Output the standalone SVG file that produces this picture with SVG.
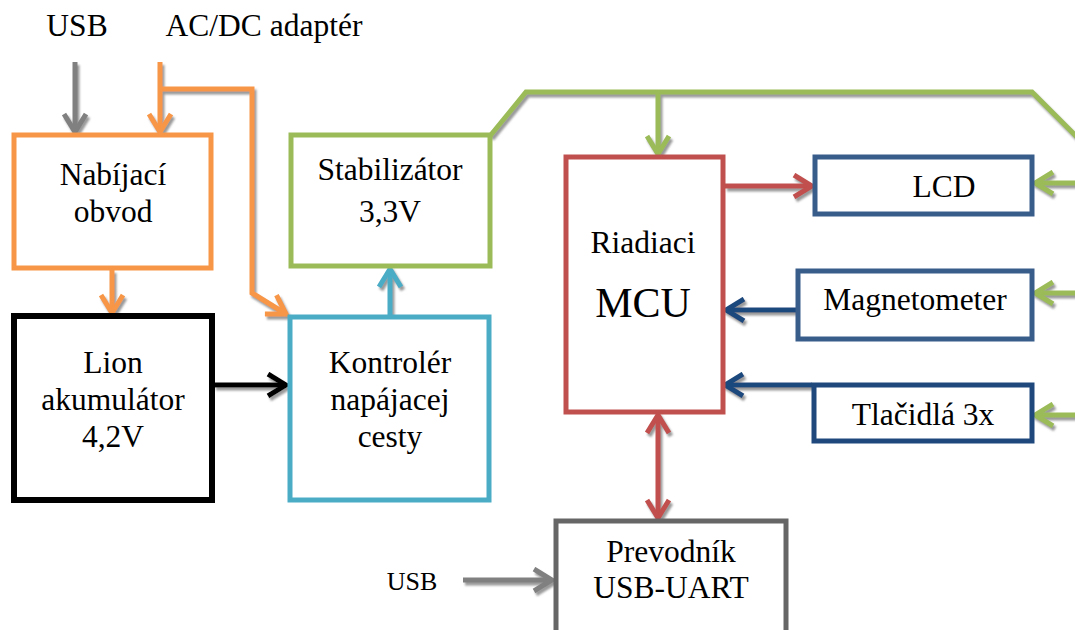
<svg xmlns="http://www.w3.org/2000/svg" width="1075" height="630" viewBox="0 0 1075 630">
<style>
text{font-family:"Liberation Serif","Times New Roman",serif;fill:#000;text-anchor:middle}
.t{font-size:31.5px}
.box{fill:#fff;stroke-width:5}
.c{fill:none;stroke-width:5}
</style>
<defs>
<filter id="sh" x="-10%" y="-10%" width="130%" height="130%">
<feDropShadow dx="2" dy="3" stdDeviation="0.8" flood-color="#808080" flood-opacity="0.8"/>
</filter>
<marker id="aO" viewBox="0 0 24 26" refX="21" refY="13" markerWidth="24" markerHeight="26" markerUnits="userSpaceOnUse" orient="auto"><path d="M3,2 L21,13 L3,24" fill="none" stroke="#F79646" stroke-width="5"/></marker>
<marker id="aG" viewBox="0 0 24 26" refX="21" refY="13" markerWidth="24" markerHeight="26" markerUnits="userSpaceOnUse" orient="auto"><path d="M3,2 L21,13 L3,24" fill="none" stroke="#808080" stroke-width="5"/></marker>
<marker id="aGr" viewBox="0 0 24 26" refX="21" refY="13" markerWidth="24" markerHeight="26" markerUnits="userSpaceOnUse" orient="auto"><path d="M3,2 L21,13 L3,24" fill="none" stroke="#9BBB59" stroke-width="5"/></marker>
<marker id="aR" viewBox="0 0 24 26" refX="21" refY="13" markerWidth="24" markerHeight="26" markerUnits="userSpaceOnUse" orient="auto-start-reverse"><path d="M3,2 L21,13 L3,24" fill="none" stroke="#C0504D" stroke-width="5"/></marker>
<marker id="aB" viewBox="0 0 24 26" refX="21" refY="13" markerWidth="24" markerHeight="26" markerUnits="userSpaceOnUse" orient="auto"><path d="M3,2 L21,13 L3,24" fill="none" stroke="#1F497D" stroke-width="5"/></marker>
<marker id="aK" viewBox="0 0 24 26" refX="21" refY="13" markerWidth="24" markerHeight="26" markerUnits="userSpaceOnUse" orient="auto"><path d="M3,2 L21,13 L3,24" fill="none" stroke="#000" stroke-width="5"/></marker>
<marker id="aC" viewBox="0 0 24 26" refX="21" refY="13" markerWidth="24" markerHeight="26" markerUnits="userSpaceOnUse" orient="auto"><path d="M3,2 L21,13 L3,24" fill="none" stroke="#4BACC6" stroke-width="5"/></marker>
</defs>

<g id="labels">
<text x="77" y="36" style="font-size:31.5px">USB</text>
<text x="264" y="36" style="font-size:31.5px">AC/DC adaptér</text>
<text x="412" y="590" style="font-size:26px">USB</text>
</g>

<g id="connectors" filter="url(#sh)">
<line class="c" x1="75" y1="62" x2="75" y2="132" stroke="#808080" marker-end="url(#aG)"/>
<line class="c" x1="160" y1="62" x2="160" y2="132" stroke="#F79646" marker-end="url(#aO)"/>
<polyline class="c" points="160,89 252,89 252,293 286,314" stroke="#F79646" marker-end="url(#aO)"/>
<line class="c" x1="112" y1="270" x2="112" y2="313" stroke="#F79646" marker-end="url(#aO)"/>
<line class="c" x1="214" y1="385" x2="286" y2="385" stroke="#000" marker-end="url(#aK)"/>
<line class="c" x1="390" y1="315" x2="390" y2="269" stroke="#4BACC6" marker-end="url(#aC)"/>
<polyline class="c" points="490,136 526,92 1032,92 1080,140" stroke="#9BBB59"/>
<line class="c" x1="658" y1="92" x2="658" y2="154" stroke="#9BBB59" marker-end="url(#aGr)"/>
<line class="c" x1="1080" y1="183" x2="1035" y2="183" stroke="#9BBB59" marker-end="url(#aGr)"/>
<line class="c" x1="1080" y1="293" x2="1035" y2="293" stroke="#9BBB59" marker-end="url(#aGr)"/>
<line class="c" x1="1080" y1="415" x2="1035" y2="415" stroke="#9BBB59" marker-end="url(#aGr)"/>
<line class="c" x1="725" y1="186" x2="812" y2="186" stroke="#C0504D" marker-end="url(#aR)"/>
<line class="c" x1="798" y1="310" x2="726" y2="310" stroke="#1F497D" marker-end="url(#aB)"/>
<line class="c" x1="812" y1="385" x2="725" y2="385" stroke="#1F497D" marker-end="url(#aB)"/>
<line class="c" x1="658" y1="415" x2="658" y2="518" stroke="#C0504D" marker-start="url(#aR)" marker-end="url(#aR)"/>
<line class="c" x1="463" y1="580" x2="552" y2="580" stroke="#808080" marker-end="url(#aG)"/>
</g>

<g id="nabijaci">
<rect class="box" x="14" y="135" width="197" height="133" stroke="#F79646"/>
<text class="t" x="113" y="185">Nabíjací</text>
<text class="t" x="113" y="222">obvod</text>
</g>
<g id="stabilizator">
<rect class="box" x="291" y="135" width="199" height="131" stroke="#9BBB59"/>
<text class="t" x="390" y="180">Stabilizátor</text>
<text class="t" x="390" y="222">3,3V</text>
</g>
<g id="lion">
<rect class="box" x="14" y="316" width="198" height="184" stroke="#000" style="stroke-width:6"/>
<text class="t" x="113" y="373">Lion</text>
<text class="t" x="113" y="410">akumulátor</text>
<text class="t" x="113" y="447">4,2V</text>
</g>
<g id="kontroler">
<rect class="box" x="290" y="317" width="199" height="183" stroke="#4BACC6"/>
<text class="t" x="390" y="373">Kontrolér</text>
<text class="t" x="390" y="410">napájacej</text>
<text class="t" x="390" y="447">cesty</text>
</g>
<g id="mcu">
<rect class="box" x="566" y="157" width="157" height="255" stroke="#C0504D"/>
<text class="t" x="643" y="253">Riadiaci</text>
<text x="643" y="317" style="font-size:42px">MCU</text>
</g>
<g id="lcd">
<rect class="box" x="815" y="157" width="217" height="57" stroke="#385D8A"/>
<text class="t" x="944" y="197">LCD</text>
</g>
<g id="magnetometer">
<rect class="box" x="798" y="271" width="234" height="68" stroke="#385D8A"/>
<text class="t" x="915" y="310">Magnetometer</text>
</g>
<g id="tlacidla">
<rect class="box" x="814" y="385" width="218" height="56" stroke="#1F497D"/>
<text class="t" x="923" y="425">Tlačidlá 3x</text>
</g>
<g id="prevodnik">
<rect class="box" x="556" y="521" width="230" height="130" stroke="#666666"/>
<text class="t" x="671" y="562">Prevodník</text>
<text class="t" x="671" y="598">USB-UART</text>
</g>
</svg>
